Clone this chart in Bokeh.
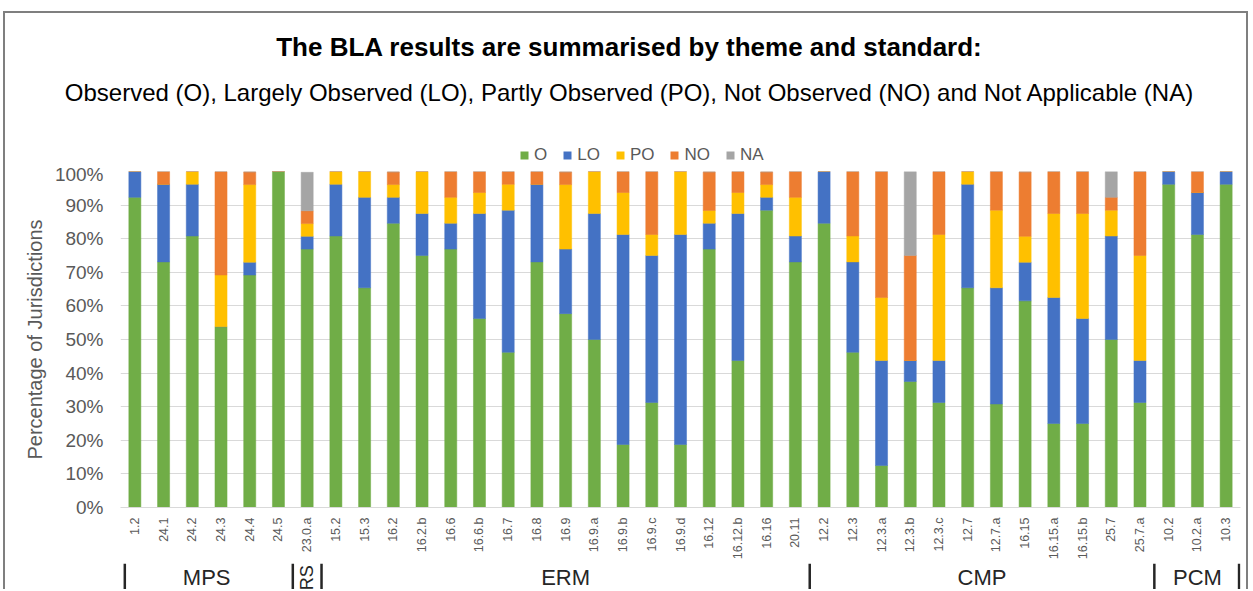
import math
from bokeh.plotting import figure
from bokeh.models import (ColumnDataSource, Range1d, FixedTicker, PrintfTickFormatter,
                          Legend, LegendItem, Div)
from bokeh.layouts import column
from bokeh.embed import file_html
from bokeh.resources import INLINE
from bokeh.core.properties import value

# ---------------- data ----------------
standards = ["1.2", "24.1", "24.2", "24.3", "24.4", "24.5", "23.0.a", "15.2", "15.3", "16.2",
             "16.2.b", "16.6", "16.6.b", "16.7", "16.8", "16.9", "16.9.a", "16.9.b", "16.9.c",
             "16.9.d", "16.12", "16.12.b", "16.16", "20.11", "12.2", "12.3", "12.3.a", "12.3.b",
             "12.3.c", "12.7", "12.7.a", "16.15", "16.15.a", "16.15.b", "25.7", "25.7.a",
             "10.2", "10.2.a", "10.3"]

obs = [92.3, 73.1, 80.8, 53.8, 69.2, 100, 76.9, 80.8, 65.4, 84.6,
       75, 76.9, 56.25, 46.2, 73.1, 57.7, 50, 18.75, 31.25,
       18.75, 76.9, 43.75, 88.5, 73.1, 84.6, 46.2, 12.5, 37.5,
       31.25, 65.4, 30.8, 61.5, 25, 25, 50, 31.25,
       96.2, 81.25, 96.2]
lo = [7.7, 23.1, 15.4, 0, 3.8, 0, 3.8, 15.4, 26.9, 7.7,
      12.5, 7.7, 31.25, 42.3, 23.1, 19.2, 37.5, 62.5, 43.75,
      62.5, 7.7, 43.75, 3.8, 7.7, 15.4, 26.9, 31.25, 6.25,
      12.5, 30.8, 34.6, 11.5, 37.5, 31.25, 30.8, 12.5,
      3.8, 12.5, 3.8]
po = [0, 0, 3.8, 15.4, 23.1, 0, 3.8, 3.8, 7.7, 3.8,
      12.5, 7.7, 6.25, 7.7, 0, 19.2, 12.5, 12.5, 6.25,
      18.75, 3.8, 6.25, 3.8, 11.5, 0, 7.7, 18.75, 0,
      37.5, 3.8, 23.1, 7.7, 25, 31.25, 7.7, 31.25,
      0, 0, 0]
no = [0, 3.8, 0, 30.8, 3.8, 0, 3.8, 0, 0, 3.8,
      0, 7.7, 6.25, 3.8, 3.8, 3.8, 0, 6.25, 18.75,
      0, 11.5, 6.25, 3.8, 7.7, 0, 19.2, 37.5, 31.25,
      18.75, 0, 11.5, 19.2, 12.5, 12.5, 3.8, 25,
      0, 6.25, 0]
na = [0, 0, 0, 0, 0, 0, 11.5, 0, 0, 0,
      0, 0, 0, 0, 0, 0, 0, 0, 0,
      0, 0, 0, 0, 0, 0, 0, 0, 25,
      0, 0, 0, 0, 0, 0, 7.7, 0,
      0, 0, 0]

series_names = ["O", "LO", "PO", "NO", "NA"]
series_colors = ["#70AD47", "#4472C4", "#FFC000", "#ED7D31", "#A5A5A5"]

themes = ["MPS", "RS", "ERM", "CMP", "PCM"]
theme_sizes = [6, 1, 17, 12, 3]

y_ticks = [0, 10, 20, 30, 40, 50, 60, 70, 80, 90, 100]

title_text = "The BLA results are summarised by theme and standard:"
subtitle_text = ("Observed (O), Largely Observed (LO), Partly Observed (PO), "
                 "Not Observed (NO) and Not Applicable (NA)")
y_label = "Percentage of Jurisdictions"

FONT = "Liberation Sans"
GREY_TXT = "#595959"

# ---------------- geometry ----------------
n = len(standards)
W = 1248
BL, BR = 120, 8
TITLE_H = 112
HEAD_H = 163
FRAME_TOP = 171
FRAME_H = 336
BOTTOM = 56
STRIP_H = 26

# ---------------- title + subtitle ----------------
head_html = (
    f'<div style="box-sizing:border-box;width:{W}px;padding-left:10px;padding-top:32px;'
    f'text-align:center;font-family:\'{FONT}\',Arial,sans-serif;color:#000000;">'
    f'<div style="font-size:26px;font-weight:bold;line-height:30px;white-space:nowrap;">{title_text}</div>'
    f'<div style="font-size:24px;line-height:30px;margin-top:16px;white-space:nowrap;">{subtitle_text}</div>'
    '</div>')
head = Div(text=head_html, width=W, height=TITLE_H, margin=0)

# ---------------- legend strip ----------------
h = figure(width=W, height=HEAD_H - TITLE_H, title=None,
           x_range=Range1d(BL, W - BR), y_range=Range1d(0, HEAD_H - TITLE_H),
           output_backend="svg", toolbar_location=None,
           min_border_left=BL, min_border_right=BR, min_border_top=0, min_border_bottom=0,
           x_axis_location=None, y_axis_location=None)
h.outline_line_color = None
h.grid.grid_line_color = None
h.border_fill_color = None
h.background_fill_color = None

# zero-height carriers of the series colours for the legend swatches
swatches = [h.vbar(x=[BL], top=[0], bottom=[0], width=0, fill_color=c, line_color=None)
            for c in series_colors]
legend = Legend(items=[LegendItem(label=s, renderers=[r]) for s, r in zip(series_names, swatches)],
                orientation="horizontal", location=(519 - BL, -2),
                glyph_width=10, glyph_height=10, label_standoff=5, spacing=15,
                label_width=5, label_height=18,
                label_text_font=FONT, label_text_font_size="17px",
                label_text_color=GREY_TXT, padding=0, margin=0,
                border_line_color=None, background_fill_alpha=0)
h.add_layout(legend, "center")

# ---------------- main chart ----------------
src = ColumnDataSource(dict(x=list(range(n)), O=obs, LO=lo, PO=po, NO=no, NA=na))

p = figure(width=W, height=FRAME_TOP - HEAD_H + FRAME_H + BOTTOM, title=None,
           x_range=Range1d(-0.5, n - 0.5), y_range=Range1d(0, 100),
           output_backend="svg", toolbar_location=None,
           min_border_left=BL, min_border_right=BR,
           min_border_top=FRAME_TOP - HEAD_H, min_border_bottom=BOTTOM)
p.outline_line_color = None
p.border_fill_color = None

p.vbar_stack(series_names, x="x", width=0.42, source=src, color=series_colors,
             line_width=0.5)

p.xgrid.grid_line_color = None
p.ygrid.grid_line_color = "#D9D9D9"
p.ygrid.ticker = FixedTicker(ticks=y_ticks)

p.yaxis.ticker = FixedTicker(ticks=y_ticks)
p.yaxis.formatter = PrintfTickFormatter(format="%d%%")
p.yaxis.axis_line_color = None
p.yaxis.major_tick_line_color = None
p.yaxis.minor_tick_line_color = None
p.yaxis.major_label_text_font = FONT
p.yaxis.major_label_text_font_size = "19px"
p.yaxis.major_label_text_color = GREY_TXT
p.yaxis.major_label_standoff = 11
p.yaxis.axis_label = y_label
p.yaxis.axis_label_text_font = FONT
p.yaxis.axis_label_text_font_size = "20px"
p.yaxis.axis_label_text_font_style = "normal"
p.yaxis.axis_label_text_color = GREY_TXT
p.yaxis.axis_label_standoff = 6

p.xaxis.ticker = FixedTicker(ticks=list(range(n)))
p.xaxis.major_label_overrides = {i: s for i, s in enumerate(standards)}
p.xaxis.major_label_orientation = math.pi / 2
p.xaxis.major_label_text_font = FONT
p.xaxis.major_label_text_font_size = "12.5px"
p.xaxis.major_label_text_color = GREY_TXT
p.xaxis.major_label_standoff = 4
p.xaxis.axis_line_color = "#D9D9D9"
p.xaxis.major_tick_line_color = None
p.xaxis.minor_tick_line_color = None

# ---------------- theme strip ----------------
g = figure(width=W, height=STRIP_H, title=None,
           x_range=Range1d(-0.5, n - 0.5), y_range=Range1d(0, 1),
           output_backend="svg", toolbar_location=None,
           min_border_left=BL, min_border_right=BR,
           min_border_top=0, min_border_bottom=0,
           x_axis_location=None, y_axis_location=None)
g.outline_line_color = None
g.grid.grid_line_color = None
g.border_fill_color = None
g.background_fill_color = None

bounds = [-0.5]
for s in theme_sizes:
    bounds.append(bounds[-1] + s)
centers = [(bounds[i] + bounds[i + 1]) / 2 for i in range(len(themes))]
# keep the two outer bars fully inside the strip
sep_x = [bounds[0] + 0.15] + bounds[1:-1] + [bounds[-1] - 0.05]

g.segment(x0=sep_x, x1=sep_x, y0=[0] * len(sep_x), y1=[1] * len(sep_x),
          line_color="#262626", line_width=2.5)
lab_src = ColumnDataSource(dict(x=centers, y=[0.45] * len(themes), t=themes,
                                a=[math.pi / 2 if sz == 1 else 0 for sz in theme_sizes],
                                fs=["18px" if sz == 1 else "22px" for sz in theme_sizes]))
g.text(x="x", y="y", text="t", angle="a", text_font_size="fs", source=lab_src,
       text_align="center", text_baseline="middle", text_font=value(FONT),
       text_color="#262626")

# outer frame of the slide graphic (top, left and right edges)
frame_styles = {
    "background-image": ("linear-gradient(#7F7F7F,#7F7F7F),linear-gradient(#7F7F7F,#7F7F7F),"
                         "linear-gradient(#7F7F7F,#7F7F7F)"),
    "background-size": f"{W - 4}px 2px, 2px 700px, 2px 700px",
    "background-position": f"3px 11px, 3px 11px, {W - 2}px 11px",
    "background-repeat": "no-repeat",
}
layout = column(head, h, p, g, spacing=0, styles=frame_styles)
open("out.html", "w").write(file_html(layout, INLINE))
